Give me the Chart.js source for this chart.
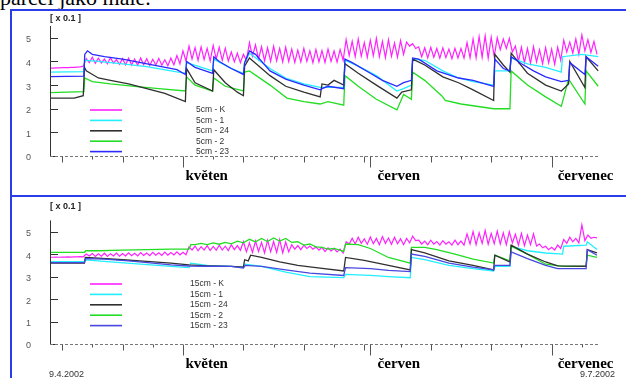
<!DOCTYPE html>
<html>
<head>
<meta charset="utf-8">
<script src="https://cdn.jsdelivr.net/npm/chart.js@4"></script>
<style>
  body { margin: 0; width: 626px; height: 378px; overflow: hidden; background: #fff; position: relative; }
  .cap { position: absolute; left: 0; top: -15px; font: 22px "Liberation Serif", serif; white-space: nowrap; color: #000; }
  .frame { position: absolute; border-left: 2px solid #2b3de8; border-top: 2px solid #2b3de8; }
  canvas { position: absolute; left: 0; }
</style>
</head>
<body>
<div class="cap">parcel jako malé.</div>
<div class="frame" style="left:10px;top:9px;width:700px;height:186px"></div>
<div class="frame" style="left:10px;top:195px;width:700px;height:300px"></div>
<canvas id="top" width="626" height="196" style="top:0"></canvas>
<canvas id="bot" width="626" height="182" style="top:196px"></canvas>
<script>
// x = days since 9.4.2002, y in units of 0.1
const yTicks = [0, 1, 2, 3, 4, 5];
const months = [['květen', 22.4], ['červen', 54.2], ['červenec', 84.0]];
const longTicks = [22, 53, 83];
const midTicks = [2, 12, 32, 42, 52, 63, 73];
const shortTicks = [7, 17, 27, 37, 47, 58, 68, 78, 88];

const topLabels = ['5cm - K', '5cm - 1', '5cm - 24', '5cm - 2', '5cm - 23'];
const botLabels = ['15cm - K', '15cm - 1', '15cm - 24', '15cm - 2', '15cm - 23'];

// K series: one value every half day
const topK = [
  3.72, 3.72, 3.73, 3.73, 3.74, 3.74, 3.74, 3.75, 3.75, 3.76, 3.77, 3.80,
  4.12, 3.95, 4.18, 3.92, 4.14, 3.94, 4.10, 3.90, 4.16, 3.93, 4.08, 3.88,
  4.12, 3.86, 4.14, 3.85, 4.10, 3.84, 4.15, 3.86, 4.12, 3.83, 4.09, 3.85,
  4.13, 3.84, 4.07, 3.82, 4.14, 3.86, 4.25, 3.90, 4.45, 4.02, 4.65, 4.10,
  4.58, 4.05, 4.62, 4.08, 4.55, 4.02, 4.68, 4.10, 4.60, 4.05, 4.56, 4.02,
  4.40, 3.98, 4.35, 3.95, 4.30, 4.05, 4.80, 4.22, 4.70, 4.10, 4.62, 4.02,
  4.58, 4.00, 4.64, 4.03, 4.55, 3.98, 4.60, 4.00, 4.52, 3.96, 4.48, 3.98,
  4.55, 4.00, 4.45, 3.95, 4.50, 3.98, 4.46, 3.96, 4.52, 4.00, 4.44, 3.97,
  4.50, 4.05, 4.92, 4.25, 4.85, 4.20, 4.95, 4.22, 4.80, 4.18, 4.90, 4.24,
  4.98, 4.20, 4.85, 4.16, 4.92, 4.22, 4.78, 4.18, 4.88, 4.30, 4.82, 4.65,
  4.75, 4.55, 4.62, 4.20, 4.58, 4.15, 4.60, 4.18, 4.55, 4.14, 4.58, 4.16,
  4.52, 4.12, 4.56, 4.15, 4.55, 4.14, 4.80, 4.15, 4.95, 4.16, 5.05, 4.18,
  5.08, 4.14, 5.02, 4.20, 5.00, 4.50, 4.95, 4.55, 4.98, 4.40, 4.65, 4.00,
  4.60, 3.95, 4.55, 3.92, 4.62, 3.98, 4.50, 3.90, 4.58, 3.94, 4.52, 3.88,
  4.60, 4.05, 4.90, 4.40, 4.82, 4.35, 4.95, 4.30, 5.12, 4.45, 4.92, 4.38,
  4.85, 4.30
];
const top1 = [[0,3.55],[5.6,3.57],[5.75,4.05],[8,4.0],[12,3.9],[16,3.78],[20,3.6],[22.4,3.5],[22.6,3.95],[26.9,3.6],[27.1,4.1],[30,3.7],[32,3.5],[32.2,3.95],[33,4.35],[36.4,3.7],[39,3.3],[42,3.05],[44.7,2.9],[48.6,2.9],[48.8,4.05],[51,3.8],[54,3.4],[57.4,2.75],[58.5,2.85],[59.8,3.0],[60,4.1],[62,4.05],[65,3.6],[67.6,3.3],[70,3.15],[73.4,3.0],[73.6,3.6],[76.1,3.6],[76.3,4.15],[79,3.9],[82,3.75],[84.6,3.55],[84.8,4.2],[88,4.3],[90.7,4.2]];
const top24 = [[0,2.45],[4,2.45],[5.5,2.55],[5.7,3.75],[6,3.6],[8,3.3],[10,3.2],[13,3.05],[16,2.85],[19,2.65],[22.4,2.3],[22.6,3.7],[24,3.1],[26.9,2.75],[27.1,3.65],[29,3.1],[31,2.7],[32,2.55],[32.2,3.8],[33,4.15],[36.4,3.4],[39,2.95],[42,2.7],[44.7,2.5],[45,3.05],[46,3.0],[47,3.2],[48.6,3.0],[48.8,3.9],[51,3.5],[54,3.0],[57.4,2.45],[58.2,2.7],[59.8,2.8],[60,4.1],[62,3.85],[65,3.35],[67.6,3.1],[70,2.8],[73.4,2.35],[73.6,4.3],[75,3.85],[76.1,3.55],[76.3,4.35],[79,3.5],[82,3.0],[84.6,2.75],[85.8,3.05],[86,4.0],[88.5,2.9],[88.7,4.2],[90.7,3.6]];
const top2 = [[0,2.68],[5.6,2.72],[5.75,3.3],[7,3.15],[10,3.05],[14,2.95],[18,2.85],[22.4,2.75],[22.6,3.35],[24,3.0],[26.9,2.75],[27.1,3.3],[29,2.95],[32,2.75],[32.2,3.55],[33,3.6],[36.4,3.0],[39.2,2.45],[42,2.3],[44.7,2.2],[46,2.3],[48.6,2.15],[48.8,3.4],[51,2.95],[54,2.4],[57.4,1.95],[58.5,2.6],[59.8,2.4],[60,3.55],[62,3.2],[64.8,2.55],[65.4,2.35],[68,2.2],[73.4,2.0],[76.1,2.0],[76.3,3.6],[79,3.0],[82,2.5],[84.6,2.1],[85.8,3.25],[88.5,2.2],[88.7,3.6],[90.7,2.95]];
const top23 = [[0,3.36],[5.6,3.38],[5.75,4.3],[6.2,4.45],[7,4.3],[9,4.2],[12,4.1],[15,3.95],[18,3.8],[21,3.65],[22.4,3.45],[22.6,4.0],[24,3.75],[26.9,3.5],[27.1,4.2],[28,4.0],[30,3.7],[32,3.45],[32.2,3.95],[33,4.45],[34,4.3],[36.4,3.6],[39,3.25],[42,3.0],[44.7,2.8],[45,2.85],[46,2.95],[48.6,2.85],[48.8,4.1],[50,3.95],[53,3.5],[55,3.2],[57.4,2.95],[58.5,3.1],[59.8,3.2],[60,4.15],[61,4.1],[64,3.6],[67.6,3.3],[70,3.2],[73.4,2.95],[73.6,4.1],[75,3.7],[76.1,3.6],[76.3,4.2],[78,3.9],[80,3.6],[82,3.35],[84.6,3.15],[85.8,3.2],[86,3.95],[88.5,3.45],[88.7,4.2],[90.7,3.8]];

const botK = [
  3.86, 3.86, 3.87, 3.86, 3.87, 3.87, 3.88, 3.87, 3.88, 3.88, 3.89, 3.88,
  4.00, 3.92, 4.03, 3.90, 4.01, 3.91, 4.04, 3.90, 4.02, 3.92, 4.05, 3.91,
  4.03, 3.92, 4.06, 3.93, 4.04, 3.92, 4.07, 3.94, 4.05, 3.93, 4.08, 3.95,
  4.06, 3.94, 4.09, 3.95, 4.07, 3.96, 4.10, 3.96, 4.08, 3.97, 4.32, 4.18,
  4.36, 4.15, 4.33, 4.18, 4.38, 4.16, 4.34, 4.17, 4.40, 4.18, 4.35, 4.16,
  4.42, 4.20, 4.38, 4.17, 4.55, 4.10, 4.50, 4.08, 4.58, 4.12, 4.52, 4.05,
  4.62, 4.10, 4.56, 4.08, 4.64, 4.06, 4.54, 4.10, 4.42, 4.22, 4.38, 4.20,
  4.40, 4.25, 4.36, 4.22, 4.32, 4.18, 4.30, 4.12, 4.28, 4.14, 4.25, 4.10,
  4.22, 4.05, 4.55, 4.45, 4.70, 4.45, 4.75, 4.48, 4.68, 4.44, 4.76, 4.46,
  4.70, 4.42, 4.78, 4.48, 4.72, 4.44, 4.75, 4.46, 4.68, 4.42, 4.70, 4.50,
  4.80, 4.60, 4.62, 4.45, 4.58, 4.42, 4.62, 4.44, 4.56, 4.40, 4.60, 4.44,
  4.55, 4.40, 4.62, 4.42, 4.58, 4.40, 4.90, 4.45, 5.00, 4.42, 4.95, 4.48,
  5.05, 4.44, 4.92, 4.46, 5.02, 4.45, 4.95, 4.42, 5.00, 4.50, 4.88, 4.40,
  4.92, 4.38, 4.85, 4.42, 4.90, 4.36, 4.45, 4.28, 4.35, 4.20, 4.30, 4.18,
  4.40, 4.25, 4.65, 4.48, 4.75, 4.55, 4.70, 4.50, 5.30, 4.60, 4.85, 4.70,
  4.75, 4.72
];
const bot1 = [[0,3.67],[5.7,3.67],[5.85,3.74],[10,3.65],[15,3.55],[20,3.45],[23,3.4],[23.3,3.6],[26,3.5],[30,3.45],[32,3.42],[32.3,3.55],[35,3.45],[39,3.2],[43,3.0],[48.6,2.95],[48.9,3.1],[53,3.05],[56,3.0],[59.6,2.95],[59.8,3.85],[62,3.75],[66,3.5],[70,3.35],[73.4,3.25],[73.6,3.45],[76.1,3.45],[76.3,4.35],[79,4.15],[82,4.05],[84.8,4.0],[85,4.35],[88.7,4.4],[88.9,4.55],[90.5,4.2]];
const bot24 = [[0,3.6],[5.7,3.6],[5.85,3.85],[8,3.82],[12,3.75],[16,3.68],[20,3.6],[23,3.52],[26,3.48],[30,3.45],[32,3.42],[32.2,3.75],[32.8,3.7],[33.2,3.95],[35,3.85],[38,3.65],[41,3.5],[44,3.4],[48.6,3.25],[48.9,3.85],[52,3.72],[56,3.5],[59.6,3.3],[59.8,4.2],[62,4.05],[66,3.7],[70,3.5],[73.4,3.3],[73.6,3.95],[76.1,3.65],[76.3,4.4],[79,4.0],[82,3.65],[84,3.48],[88.7,3.46],[88.9,4.2],[90.5,4.05]];
const bot2 = [[0,4.08],[5.7,4.08],[5.9,4.15],[8,4.15],[12,4.18],[16,4.2],[20,4.22],[23,4.22],[23.3,4.42],[24,4.42],[25,4.48],[26,4.42],[27,4.5],[28,4.44],[29,4.52],[30,4.46],[31,4.58],[32,4.5],[33,4.66],[34,4.55],[35,4.7],[36,4.56],[37,4.72],[38,4.58],[39,4.7],[40,4.52],[41,4.55],[42,4.4],[43,4.45],[44,4.32],[45,4.3],[46,4.22],[47,4.25],[48.6,4.12],[48.9,4.45],[51,4.42],[53,4.25],[56,3.85],[59.6,3.6],[59.8,4.3],[62,4.3],[64,4.2],[67,4.0],[70,3.78],[73.4,3.6],[73.6,3.95],[76.1,3.7],[76.3,4.35],[79,4.0],[82,3.55],[85,3.45],[88.7,3.45],[88.9,3.95],[90.5,3.85]];
const bot23 = [[0,3.62],[5.7,3.62],[5.85,3.8],[9,3.78],[13,3.7],[17,3.6],[20,3.52],[23,3.47],[26,3.46],[30,3.45],[32,3.38],[32.3,3.5],[35,3.45],[39,3.3],[43,3.15],[48.6,3.05],[48.9,3.4],[53,3.35],[56,3.28],[59.6,3.22],[59.8,4.0],[62,3.9],[66,3.6],[70,3.42],[73.4,3.3],[73.6,3.5],[76.1,3.5],[76.3,4.1],[79,3.8],[82,3.5],[84,3.35],[88.7,3.35],[88.9,4.2],[90.5,3.95]];

const colK = '#ff22ff', col1 = '#22eeff', col24 = '#303030', col2 = '#22dd22';
const topCol23 = '#2a2aff', botCol23 = '#4848e0';

const pts = a => a.map(([x, y]) => ({ x, y }));
const half = a => a.map((y, i) => ({ x: i / 2, y }));

function line(label, data, color, order, width) {
  return { label, data, borderColor: color, borderWidth: width || 1.3, pointRadius: 0, tension: 0, order };
}

const deco = {
  id: 'deco',
  afterDraw(chart, args, opts) {
    const { ctx, chartArea: a, scales: { x, y } } = chart;
    ctx.save();
    ctx.strokeStyle = '#333';
    ctx.lineWidth = 1;
    // y axis with inward ticks
    ctx.beginPath();
    ctx.moveTo(a.left + 0.5, a.top);
    ctx.lineTo(a.left + 0.5, a.bottom);
    yTicks.forEach(v => {
      const py = Math.round(y.getPixelForValue(v)) + 0.5;
      ctx.moveTo(a.left, py);
      ctx.lineTo(a.left + 8, py);
    });
    ctx.stroke();
    // dashed base line
    const by = Math.round(y.getPixelForValue(0)) + 0.5;
    ctx.strokeStyle = '#777';
    ctx.setLineDash([3, 2]);
    ctx.beginPath();
    ctx.moveTo(a.left, by);
    ctx.lineTo(x.getPixelForValue(90.9), by);
    ctx.stroke();
    ctx.setLineDash([]);
    ctx.strokeStyle = '#555';
    ctx.beginPath();
    [[longTicks, 11], [midTicks, 6], [shortTicks, 3]].forEach(([list, len]) => {
      list.forEach(d => {
        const px = Math.round(x.getPixelForValue(d)) + 0.5;
        ctx.moveTo(px, by);
        ctx.lineTo(px, by + len);
      });
    });
    ctx.stroke();
    // month names
    ctx.fillStyle = '#000';
    ctx.font = 'bold 15px "Liberation Serif", serif';
    ctx.textBaseline = 'alphabetic';
    months.forEach(([name, d]) => ctx.fillText(name, x.getPixelForValue(d), by + 23));
    // unit label
    ctx.font = 'bold 9px "Liberation Sans", sans-serif';
    ctx.fillStyle = '#222';
    ctx.fillText('[ x 0.1 ]', a.left, opts.unitY);
    // legend
    ctx.font = '8.5px "Liberation Sans", sans-serif';
    ctx.textBaseline = 'middle';
    chart.data.datasets.forEach((ds, i) => {
      const ly = opts.legendY + i * 10.4;
      ctx.strokeStyle = ds.borderColor;
      ctx.lineWidth = 1.6;
      ctx.beginPath();
      ctx.moveTo(90, ly);
      ctx.lineTo(122, ly);
      ctx.stroke();
      ctx.fillStyle = '#333';
      ctx.fillText(ds.label, opts.legendX, ly);
    });
    if (opts.dates) {
      ctx.font = '9px "Liberation Sans", sans-serif';
      ctx.fillStyle = '#333';
      ctx.textBaseline = 'alphabetic';
      ctx.fillText('9.4.2002', 49, 181);
      ctx.textAlign = 'right';
      ctx.fillText('9.7.2002', 615, 181);
    }
    ctx.restore();
  }
};

function makeChart(id, sets, padTop, padBottom, decoOpts) {
  return new Chart(document.getElementById(id), {
    type: 'line',
    data: { datasets: sets },
    options: {
      responsive: false,
      animation: false,
      layout: { padding: { left: 0, right: 26, top: padTop, bottom: padBottom } },
      scales: {
        x: { type: 'linear', min: 0, max: 91, display: false },
        y: {
          min: 0, max: 5.5,
          afterFit: s => { s.width = 50; },
          afterBuildTicks: s => { s.ticks = yTicks.map(v => ({ value: v })); },
          grid: { display: false, drawTicks: false },
          border: { display: false },
          ticks: { padding: 19, labelOffset: 2, color: '#555', font: { family: 'Liberation Sans', size: 9 } }
        }
      },
      plugins: { legend: { display: false }, tooltip: { enabled: false }, deco: decoOpts }
    },
    plugins: [deco]
  });
}

makeChart('top', [
  line(topLabels[0], half(topK), colK, 5, 1.2),
  line(topLabels[1], pts(top1), col1, 4),
  line(topLabels[2], pts(top24), col24, 2),
  line(topLabels[3], pts(top2), col2, 3),
  line(topLabels[4], pts(top23), topCol23, 1)
], 26, 40, { unitY: 21, legendX: 196, legendY: 110, dates: false });

makeChart('bot', [
  line(botLabels[0], half(botK), colK, 5, 1.2),
  line(botLabels[1], pts(bot1), col1, 4),
  line(botLabels[2], pts(bot24), col24, 2),
  line(botLabels[3], pts(bot2), col2, 3),
  line(botLabels[4], pts(bot23), botCol23, 1)
], 17, 34, { unitY: 13, legendX: 190, legendY: 88, dates: true });
</script>
</body>
</html>
